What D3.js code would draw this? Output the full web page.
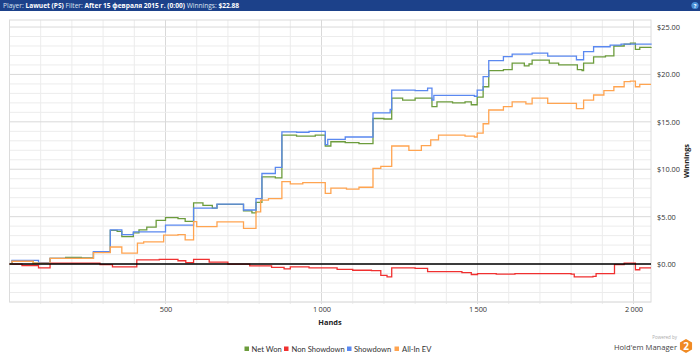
<!DOCTYPE html>
<html><head><meta charset="utf-8">
<script src="https://cdn.jsdelivr.net/npm/d3@7"></script>
<style>
html,body{margin:0;padding:0;background:#fff;}
svg{display:block;font-family:"Open Sans","Noto Sans",sans-serif;}
</style></head>
<body>
<svg id="c" width="700" height="357"></svg>
<script>
// ---- data (hand number, cumulative winnings $) ----
const netWon = [[0,0],[8,0.3],[76,0.1],[130,0.6],[180,0.7],[230,0.65],[269,1.25],[323,3.55],[345,3.45],[360,2.9],[397,3.3],[415,3.6],[440,3.9],[470,4.6],[500,4.9],[540,4.8],[563,4.5],[590,6.45],[620,6.2],[650,5.9],[665,6.3],[750,5.6],[777,5.4],[790,6.5],[809,9.2],[852,9.1],[873,13.6],[920,13.5],[980,13.6],[1012,12.45],[1030,12.9],[1076,12.8],[1120,12.7],[1165,15.35],[1200,15.3],[1225,17.5],[1260,17.3],[1300,17.5],[1354,16.6],[1370,17.1],[1420,17.0],[1460,17.1],[1480,16.8],[1499,17.6],[1518,18.7],[1536,20.4],[1583,20.5],[1611,21.2],[1650,20.9],[1665,21.1],[1675,21.5],[1730,21.2],[1760,21.0],[1820,20.5],[1835,20.4],[1840,21.2],[1872,21.85],[1910,21.95],[1937,23.0],[1970,23.2],[1990,23.3],[2006,22.65],[2020,22.85],[2056,22.88]];
const nonShowdown = [[0,0],[40,-0.15],[93,-0.4],[130,0.1],[290,-0.05],[330,-0.3],[408,0.45],[480,0.5],[540,0.35],[565,0.15],[590,0.5],[640,0.2],[700,0],[770,-0.2],[840,-0.35],[880,-0.5],[900,-0.3],[960,-0.4],[1050,-0.55],[1100,-0.65],[1160,-0.7],[1190,-1.2],[1210,-1.34],[1225,-0.4],[1300,-0.45],[1340,-0.8],[1450,-0.9],[1480,-1.1],[1500,-1.0],[1560,-1.05],[1620,-1.0],[1800,-1.05],[1810,-1.35],[1870,-1.3],[1880,-1.0],[1939,-0.05],[1970,0.1],[2006,-0.6],[2020,-0.4],[2056,-0.4]];
const showdown = [[0,0],[8,0.4],[93,0.15],[130,0.6],[269,1.3],[323,3.6],[360,3.1],[397,3.4],[500,4.1],[590,5.9],[665,6.33],[750,5.7],[790,6.9],[809,9.55],[852,10.2],[873,13.95],[920,13.9],[960,14.0],[1012,12.6],[1020,13.15],[1076,13.4],[1165,15.95],[1220,16.3],[1225,18.35],[1300,18.3],[1340,18.55],[1354,17.3],[1360,17.8],[1490,17.7],[1499,18.35],[1518,19.76],[1536,21.45],[1583,21.87],[1611,22.15],[1675,22.25],[1725,21.94],[1817,21.55],[1840,22.4],[1872,22.92],[1925,23.1],[1960,23.2],[2056,23.25]];
const allInEV = [[0,0],[8,0.3],[76,0.1],[130,0.6],[269,1.2],[323,1.8],[360,1.15],[410,2.2],[430,2.35],[494,3.05],[540,3.1],[563,2.55],[590,4.47],[600,3.95],[665,4.46],[750,3.76],[790,5.5],[805,6.75],[830,6.9],[873,8.7],[900,8.45],[940,8.6],[1012,7.45],[1030,8.0],[1080,7.9],[1120,8.1],[1165,10.1],[1190,10.3],[1225,12.45],[1280,12.0],[1320,12.5],[1350,13.1],[1375,13.6],[1460,13.5],[1490,13.4],[1499,13.8],[1518,14.8],[1536,16.25],[1583,16.6],[1611,17.1],[1655,16.9],[1675,17.5],[1725,16.95],[1817,16.4],[1840,17.3],[1872,17.83],[1905,18.3],[1937,18.7],[1970,19.25],[1990,19.3],[2006,18.7],[2020,18.95],[2056,18.95]];

const seriesNames = ["Net Won","Non Showdown","Showdown","All-In EV"];
const seriesData = [netWon, nonShowdown, showdown, allInEV];
const seriesColors = ["#6c9c3c","#f03030","#5a88f0","#ffa450"];
const yTicks = [0,5,10,15,20,25];
const xTicks = [500,1000,1500,2000];

const svg = d3.select("#c");
const W = 700;

// header
svg.append("rect").attr("x",0).attr("y",0).attr("width",W).attr("height",11).attr("fill","#1c418a");
const ht = svg.append("text").attr("x",3).attr("y",8).attr("font-size",6.6).attr("fill","#fff");
[["Player: ",false],["Lawuet (PS) ",true],["Filter: ",false],["After 15 февраля 2015 г. (0:00) ",true],["Winnings: ",false],["$22.88",true]]
  .forEach(([t,b])=>ht.append("tspan").text(t).attr("font-weight",b?"bold":"normal").attr("fill",b?"#fff":"#dde4f2"));
svg.append("circle").attr("cx",695).attr("cy",5.5).attr("r",3.6).attr("fill","#4a90d9");
svg.append("text").attr("x",695).attr("y",7.7).attr("text-anchor","middle").attr("font-size",5.5).attr("font-weight","bold").attr("fill","#fff").text("?");

// scales
const x = d3.scaleLinear().domain([0,2056]).range([9.5,651]);
const y = d3.scaleLinear().domain([-4,25.74]).range([302,20]);

const g = svg.append("g");
// grid
const minorX = d3.range(100,2056,100);
g.selectAll(".vx").data(minorX).enter().append("line")
  .attr("x1",d=>x(d)).attr("x2",d=>x(d)).attr("y1",20).attr("y2",304)
  .attr("stroke",d=>d%500===0?"#d9d9d9":"#ececec").attr("stroke-width",1);
const minorY = d3.range(-4,26,1);
g.selectAll(".hy").data(minorY).enter().append("line")
  .attr("x1",9.5).attr("x2",651).attr("y1",d=>y(d)).attr("y2",d=>y(d))
  .attr("stroke",d=>d%5===0?"#d9d9d9":"#ececec").attr("stroke-width",1);
// frame
g.append("rect").attr("x",9.5).attr("y",20).attr("width",641.5).attr("height",282)
  .attr("fill","none").attr("stroke","#dcdcdc");

// lines
const line = d3.line().x(d=>x(d[0])).y(d=>y(d[1])).curve(d3.curveStepAfter);
seriesData.forEach((s,i)=>{
  g.append("path").datum(s).attr("d",line).attr("fill","none")
   .attr("stroke",seriesColors[i]).attr("stroke-width",1.3);
});
// zero line
g.append("line").attr("x1",9.5).attr("x2",651).attr("y1",y(0)).attr("y2",y(0)).attr("stroke","#000").attr("stroke-width",1.6);

// axes
const yAxis = d3.axisRight(y).tickValues(yTicks).tickSize(0).tickPadding(6).tickFormat(d=>"$"+d3.format(".2f")(d));
const ya = svg.append("g").attr("transform","translate(651,0)").call(yAxis);
ya.select(".domain").remove();
ya.selectAll("text").attr("font-size",7.4).attr("fill","#333").attr("font-family","'Open Sans',sans-serif");

const xAxis = d3.axisBottom(x).tickValues(xTicks).tickSize(0).tickPadding(5).tickFormat(d=>d3.format(",")(d).replace(",","\u2009"));
const xa = svg.append("g").attr("transform","translate(0,302)").call(xAxis);
xa.select(".domain").remove();
xa.selectAll("text").attr("font-size",7.4).attr("fill","#333").attr("font-family","'Open Sans',sans-serif");

svg.append("text").attr("x",330).attr("y",325).attr("text-anchor","middle").attr("font-size",7.4).attr("font-weight","bold").attr("fill","#222").text("Hands");
svg.append("text").attr("transform","translate(689,161) rotate(-90)").attr("text-anchor","middle").attr("font-size",7.4).attr("font-weight","bold").attr("fill","#222").text("Winnings");

// legend
const legSq = [244.5,284,347,394.5];
const legTx = [251.5,291.5,354,402];
seriesNames.forEach((n,i)=>{
  svg.append("rect").attr("x",legSq[i]).attr("y",346.5).attr("width",4.5).attr("height",4.5).attr("fill",seriesColors[i]);
  svg.append("text").attr("x",legTx[i]).attr("y",351.5).attr("font-size",7.6).attr("font-family","Lato,sans-serif").attr("fill","#333").text(n);
});

// footer logo
svg.append("text").attr("x",677).attr("y",338.5).attr("text-anchor","end").attr("font-size",4.5).attr("fill","#aaa").text("Powered by");
svg.append("text").attr("x",677).attr("y",350).attr("text-anchor","end").attr("font-size",7.6).attr("fill","#444").text("Hold'em Manager");
const hex = d3.range(6).map(k=>{const a=Math.PI/3*k+Math.PI/6;return [686+7*Math.cos(a),346+7*Math.sin(a)];});
svg.append("polygon").attr("points",hex.map(p=>p.join(",")).join(" ")).attr("fill","#f08a24");
svg.append("text").attr("x",686).attr("y",349.5).attr("text-anchor","middle").attr("font-size",10).attr("font-weight","bold").attr("fill","#fff").text("2");
</script>
</body></html>
